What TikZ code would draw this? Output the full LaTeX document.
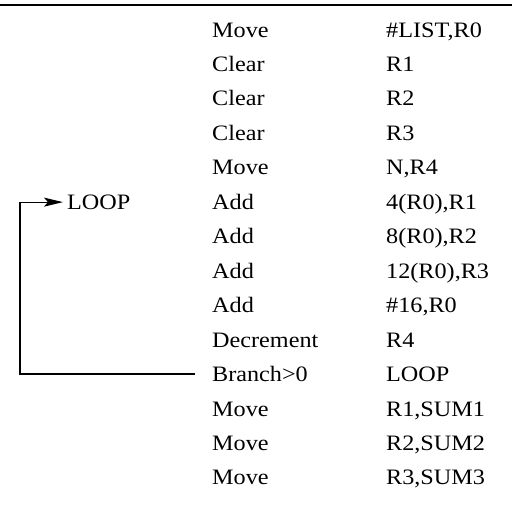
\documentclass[tikz,border=0pt]{standalone}
\usepackage{fontspec}
\setmainfont{Liberation Serif}[FakeStretch=1.1]
\usetikzlibrary{arrows.meta}
\begin{document}
\begin{tikzpicture}[x=1pt,y=-1pt,
  txt/.style={anchor=base west, inner sep=0pt, font=\fontsize{22}{26}\selectfont},
  conn/.style={line width=1.2pt},
  rule/.style={line width=1.5pt}]
\useasboundingbox (0,0) rectangle (512,528);
\coordinate (r0) at (0,5);
\coordinate (r1) at (512,5);
\draw[rule] (r0) -- (r1);
\foreach \i/\op/\arg in {1/Move/{\#LIST,R0},2/Clear/R1,3/Clear/R2,4/Clear/R3,5/Move/{N,R4},
  6/Add/{4(R0),R1},7/Add/{8(R0),R2},8/Add/{12(R0),R3},9/Add/{\#16,R0},10/Decrement/R4,
  11/Branch>0/LOOP,12/Move/{R1,SUM1},13/Move/{R2,SUM2},14/Move/{R3,SUM3}}{
  \node[txt] (op\i) at (212,{37+(\i-1)*34.46}) {\op};
  \node[txt] (ar\i) at (386,{37+(\i-1)*34.46}) {\arg};
}
\node[txt] (loop) at (67,{37+5*34.46}) {LOOP};
\coordinate (rail) at (20,300);
\draw[conn,-{Stealth[length=19pt,width=9pt,inset=4pt]}] ([xshift=-17pt]op11.west) -| (rail) |- ([xshift=-4pt]loop.west);
\end{tikzpicture}
\end{document}
